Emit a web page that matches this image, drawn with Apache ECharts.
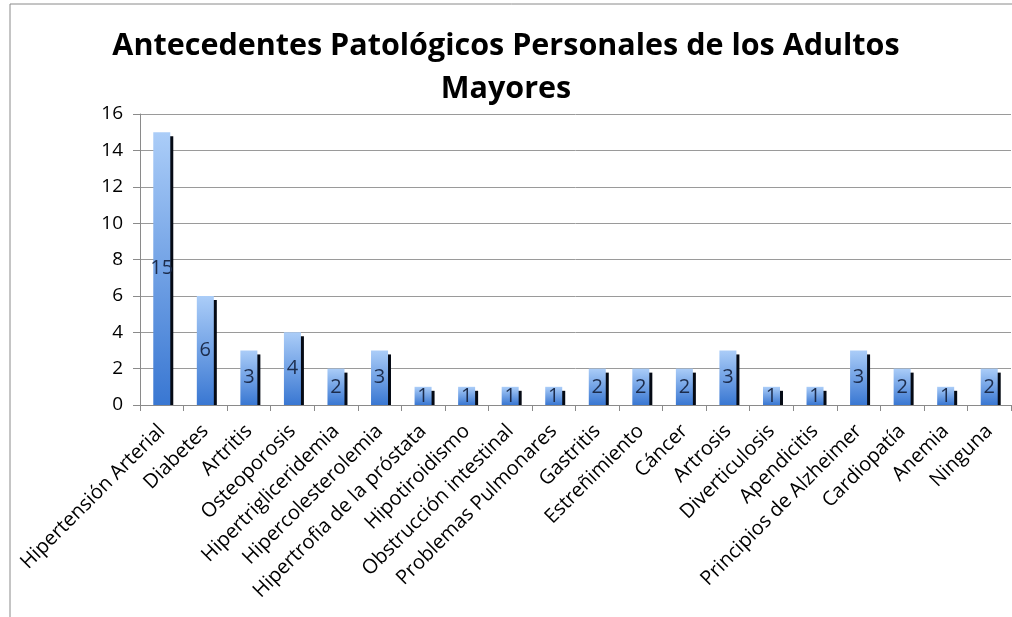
<!DOCTYPE html>
<html>
<head>
<meta charset="utf-8">
<script src="https://cdn.jsdelivr.net/npm/echarts@6/dist/echarts.min.js"></script>
<style>
  html, body { margin: 0; padding: 0; background: #fff; }
  #chart { width: 1012px; height: 617px; }
</style>
</head>
<body>
<div id="chart"></div>
<script>
// Antecedentes patológicos personales (número de adultos mayores)
const categories = [
  'Hipertensión Arterial', 'Diabetes', 'Artritis', 'Osteoporosis',
  'Hipertrigliceridemia', 'Hipercolesterolemia', 'Hipertrofia de la próstata',
  'Hipotiroidismo', 'Obstrucción intestinal', 'Problemas Pulmonares',
  'Gastritis', 'Estreñimiento', 'Cáncer', 'Artrosis', 'Diverticulosis',
  'Apendicitis', 'Principios de Alzheimer', 'Cardiopatía', 'Anemia', 'Ninguna'
];
const casos = [15, 6, 3, 4, 2, 3, 1, 1, 1, 1, 2, 2, 2, 3, 1, 1, 3, 2, 1, 2];
const yTicks = { min: 0, max: 16, interval: 2 };

const BAR_W = 17;
const font = '"Open Sans", Lato, sans-serif';
const chart = echarts.init(document.getElementById('chart'));
chart.setOption({
  animation: false,
  backgroundColor: '#fff',
  graphic: [{
    type: 'rect',
    shape: { x: 10, y: 4, width: 1100, height: 700 },
    style: { fill: 'none', stroke: '#8a8a8a', lineWidth: 1 },
    silent: true
  }],
  title: {
    text: 'Antecedentes Patológicos Personales de los Adultos\nMayores',
    left: 'center',
    top: 20,
    textStyle: {
      fontFamily: font,
      fontWeight: 'bold',
      fontSize: 30.5,
      lineHeight: 43,
      color: '#000'
    }
  },
  grid: { left: 140, right: 1, top: 114, bottom: 212 },
  xAxis: {
    type: 'category',
    data: categories,
    axisLine: { lineStyle: { color: '#8a8a8a' } },
    axisTick: { show: true, length: 6, lineStyle: { color: '#8a8a8a' } },
    axisLabel: {
      interval: 0,
      rotate: 45,
      margin: 23,
      fontFamily: font,
      fontSize: 20,
      color: '#000'
    }
  },
  yAxis: {
    type: 'value',
    min: yTicks.min,
    max: yTicks.max,
    interval: yTicks.interval,
    axisLine: { show: true, lineStyle: { color: '#8a8a8a' } },
    axisTick: { show: true, length: 7, lineStyle: { color: '#8a8a8a' } },
    splitLine: { lineStyle: { color: '#9a9a9a' } },
    axisLabel: {
      margin: 17,
      fontFamily: font,
      fontSize: 19,
      color: '#000'
    }
  },
  series: [
    {
      // hard drop shadow behind each bar, kept above the axis line
      type: 'custom',
      z: 1,
      silent: true,
      data: casos.map((v, i) => [i, v]),
      renderItem: function (params, api) {
        const top = api.coord([api.value(0), api.value(1)]);
        const base = api.coord([api.value(0), 0]);
        const y0 = top[1] + 4;
        return {
          type: 'rect',
          shape: {
            x: top[0] - BAR_W / 2 + 3,
            y: y0,
            width: BAR_W,
            height: Math.max(0, base[1] - y0)
          },
          style: { fill: '#050a14' }
        };
      }
    },
    {
      type: 'bar',
      z: 3,
      data: casos,
      barWidth: BAR_W,
      itemStyle: {
        color: new echarts.graphic.LinearGradient(0, 0, 0, 1, [
          { offset: 0, color: '#abcdf8' },
          { offset: 1, color: '#3977d2' }
        ])
      },
      label: {
        show: true,
        position: 'inside',
        fontFamily: font,
        fontSize: 20,
        color: '#1c2c4c'
      }
    }
  ]
});
</script>
</body>
</html>
